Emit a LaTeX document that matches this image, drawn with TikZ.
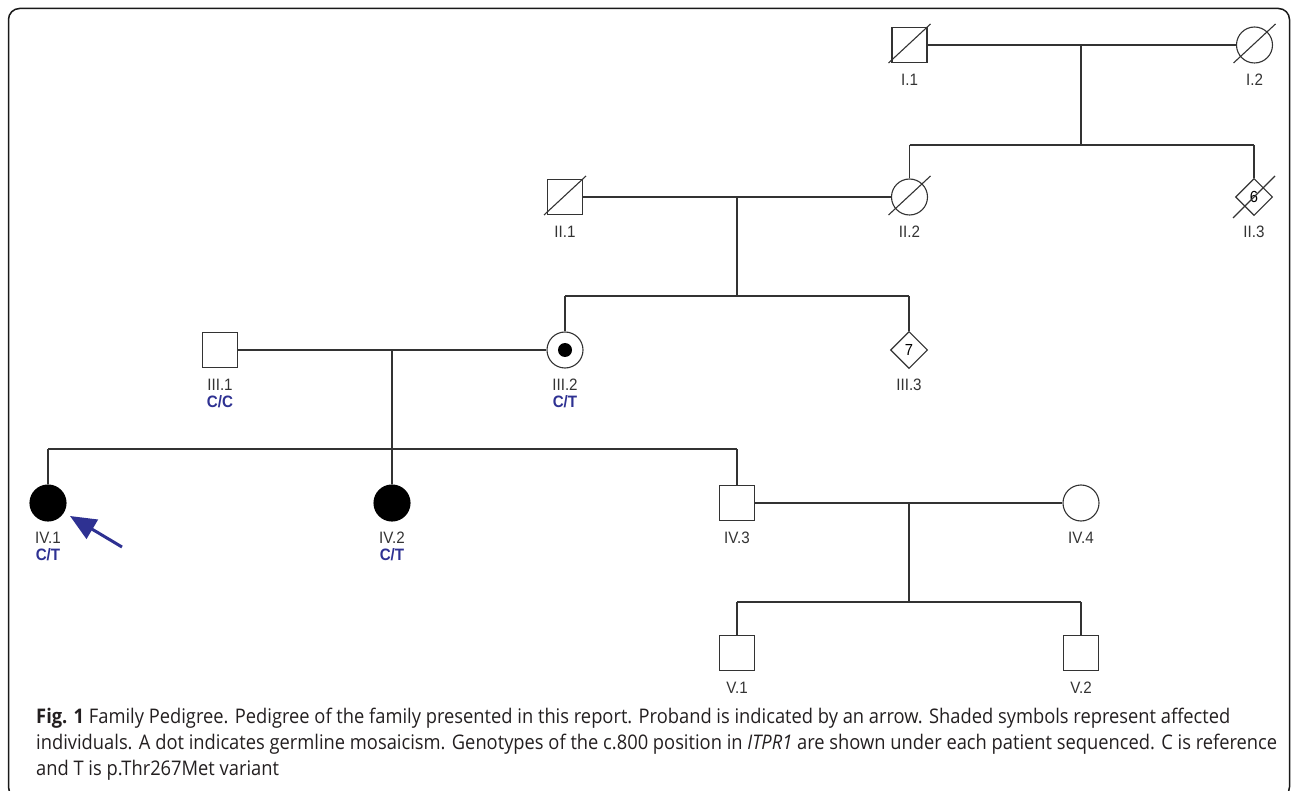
\documentclass[tikz,border=0pt]{standalone}
\usepackage{fontspec}
\setmainfont{Liberation Sans}
\newfontfamily\capfont{Open Sans}
\usetikzlibrary{shapes.geometric,calc,arrows.meta}
\definecolor{lc}{HTML}{333333}
\definecolor{navy}{HTML}{2E3192}
\definecolor{capc}{HTML}{231F20}
\newlength\capw
\newcommand\narrowtext[1]{\scalebox{0.92}[1]{#1}}
\tikzset{
 person/.style={draw=lc, line width=1.1pt, inner sep=0pt, fill=white},
 male/.style={person, rectangle, minimum size=35pt},
 female/.style={person, circle, minimum size=36pt},
 unk/.style={person, diamond, minimum size=37pt, font=\fontsize{16}{16}\selectfont},
 affected/.style={fill=black, draw=black},
 lab/.style={font=\fontsize{16.5}{16.5}\selectfont, text=lc, inner sep=0pt},
 geno/.style={font=\fontsize{16.5}{16.5}\selectfont\bfseries, text=navy, inner sep=0pt},
 rel/.style={draw=lc, line width=1.1pt},
 dead/.style={draw=lc, line width=1.1pt},
 capline/.style={anchor=base west, inner sep=0pt, text=capc},
}
\begin{document}
\settowidth\capw{\capfont individuals. A dot indicates germline mosaicism. Genotypes of the c.800 position in \textit{ITPR1} are shown under each patient sequenced. C is reference}%
\pgfmathsetmacro\capsc{1241/\capw}%
\pgfmathsetmacro\capscy{1.1*\capsc}%
\begin{tikzpicture}[x=1pt,y=-1pt]
\useasboundingbox (0,0) rectangle (1293,791);
\clip (0,0) rectangle (1293,791);
\draw[line width=1.5pt, draw=black!90, rounded corners=11pt] (8.5,8.5) rectangle (1289.5,798);

% Generation I
\node[male] (I1) at (909.5,45) {};
\node[female] (I2) at (1254.5,45) {};
\draw[dead] ($(I1)+(-21,18)$) -- ($(I1)+(21,-21)$);
\draw[dead] ($(I2)+(-21,18)$) -- ($(I2)+(21,-21)$);
\node[lab] (I1l) at ($(I1)+(0,35)$) {\narrowtext{I.1}};
\node[lab] (I2l) at ($(I2)+(0,35)$) {\narrowtext{I.2}};

% Generation II
\node[male] (II1) at (565,197) {};
\node[female] (II2) at (909.5,197) {};
\node[unk] (II3) at (1254,197) {\narrowtext{6}};
\draw[dead] ($(II1)+(-21,18)$) -- ($(II1)+(21,-21)$);
\draw[dead] ($(II2)+(-21,18)$) -- ($(II2)+(21,-21)$);
\draw[dead] ($(II3)+(-21,21)$) -- ($(II3)+(21,-21)$);
\node[lab] (II1l) at ($(II1)+(0,35)$) {\narrowtext{II.1}};
\node[lab] (II2l) at ($(II2)+(0,35)$) {\narrowtext{II.2}};
\node[lab] (II3l) at ($(II3)+(0,35)$) {\narrowtext{II.3}};

% Generation III
\node[male] (III1) at (220,350) {};
\node[female] (III2) at (565,350) {};
\node[circle, fill=black, inner sep=0pt, minimum size=14pt] (III2d) at (III2) {};
\node[unk] (III3) at (909,350) {\narrowtext{7}};
\node[lab] (III1l) at ($(III1)+(0,35)$) {\narrowtext{III.1}};
\node[lab] (III2l) at ($(III2)+(0,35)$) {\narrowtext{III.2}};
\node[lab] (III3l) at ($(III3)+(0,35)$) {\narrowtext{III.3}};
\node[geno] (III1g) at ($(III1)+(0,52)$) {\narrowtext{C/C}};
\node[geno] (III2g) at ($(III2)+(0,52)$) {\narrowtext{C/T}};

% Generation IV
\node[female, affected] (IV1) at (48,503) {};
\node[female, affected] (IV2) at (392,503) {};
\node[male] (IV3) at (737,503) {};
\node[female] (IV4) at (1081,503) {};
\node[lab] (IV1l) at ($(IV1)+(0,35)$) {\narrowtext{IV.1}};
\node[lab] (IV2l) at ($(IV2)+(0,35)$) {\narrowtext{IV.2}};
\node[lab] (IV3l) at ($(IV3)+(0,35)$) {\narrowtext{IV.3}};
\node[lab] (IV4l) at ($(IV4)+(0,35)$) {\narrowtext{IV.4}};
\node[geno] (IV1g) at ($(IV1)+(0,52)$) {\narrowtext{C/T}};
\node[geno] (IV2g) at ($(IV2)+(0,52)$) {\narrowtext{C/T}};

% Generation V
\node[male] (V1) at (737,653) {};
\node[male] (V2) at (1081,653) {};
\node[lab] (V1l) at ($(V1)+(0,35)$) {\narrowtext{V.1}};
\node[lab] (V2l) at ($(V2)+(0,35)$) {\narrowtext{V.2}};

% Family I
\draw[rel] (I1.east) -- (I2.west);
\coordinate (m1) at (1081,45);
\coordinate (s1) at (1081,145);
\draw[rel] (m1) -- (s1);
\draw[rel] (II2 |- s1) -- (II3 |- s1);
\draw[rel] (II2 |- s1) -- (II2.north);
\draw[rel] (II3 |- s1) -- (II3.north);

% Family II
\draw[rel] (II1.east) -- (II2.west);
\coordinate (m2) at (737,197);
\coordinate (s2) at (737,296);
\draw[rel] (m2) -- (s2);
\draw[rel] (III2 |- s2) -- (III3 |- s2);
\draw[rel] (III2 |- s2) -- (III2.north);
\draw[rel] (III3 |- s2) -- (III3.north);

% Family III
\draw[rel] (III1.east) -- (III2.west);
\coordinate (m3) at (392,350);
\coordinate (s3) at (392,449);
\draw[rel] (m3) -- (s3);
\draw[rel] (IV1 |- s3) -- (IV3 |- s3);
\draw[rel] (IV1 |- s3) -- (IV1.north);
\draw[rel] (IV2 |- s3) -- (IV2.north);
\draw[rel] (IV3 |- s3) -- (IV3.north);

% Family IV
\draw[rel] (IV3.east) -- (IV4.west);
\coordinate (m4) at (909,503);
\coordinate (s4) at (909,602);
\draw[rel] (m4) -- (s4);
\draw[rel] (V1 |- s4) -- (V2 |- s4);
\draw[rel] (V1 |- s4) -- (V1.north);
\draw[rel] (V2 |- s4) -- (V2.north);

% Proband arrow
\coordinate (arrtail) at (122,547);
\coordinate (arrtip) at (70,516);
\draw[navy, line width=3pt, -{Triangle[length=26pt,width=22pt]}] (arrtail) -- (arrtip);

% Caption
\node[capline] (cap1) at (36,723) {\scalebox{\capsc}[\capscy]{\capfont\textbf{Fig. 1} Family Pedigree. Pedigree of the family presented in this report. Proband is indicated by an arrow. Shaded symbols represent affected}};
\node[capline] (cap2) at (36,749) {\scalebox{\capsc}[\capscy]{\capfont individuals. A dot indicates germline mosaicism. Genotypes of the c.800 position in \textit{ITPR1} are shown under each patient sequenced. C is reference}};
\node[capline] (cap3) at (36,775) {\scalebox{\capsc}[\capscy]{\capfont and T is p.Thr267Met variant}};
\end{tikzpicture}
\end{document}
